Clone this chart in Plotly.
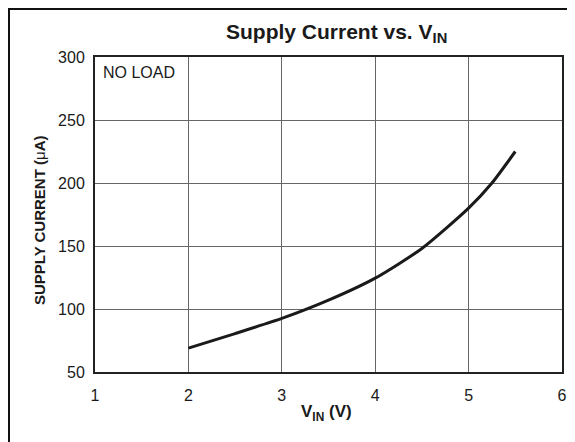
import plotly.graph_objects as go

vin = [2.0, 2.5, 3.0, 3.5, 4.0, 4.5, 5.0, 5.25, 5.5]
supply_current = [69, 80.5, 92.5, 107, 124.5, 148, 180, 200, 225]

x_ticks = [1, 2, 3, 4, 5, 6]
y_ticks = [50, 100, 150, 200, 250, 300]

FONT = "Liberation Sans, Arial, sans-serif"
INK = "#1a1a1a"

# the page body has an 8px default margin; positions below are window pixels
OFF = 8
W, H = 575, 442
PL, PR, PT, PB = 95, 562, 57, 372  # plot area in window pixels
L, T = PL - OFF, PT - OFF
R, B = W - (PR - OFF), H - (PB - OFF)
PW, PH = PR - PL, PB - PT


def px(xp):
    return (xp - PL) / PW


def py(yp):
    return (PB - yp) / PH


fig = go.Figure()
fig.add_trace(go.Scatter(
    x=vin, y=supply_current, mode="lines",
    line=dict(color=INK, width=3, shape="spline", smoothing=0.6),
    showlegend=False, hoverinfo="skip",
))

fig.update_layout(
    width=W, height=H,
    margin=dict(l=L, r=R, t=T, b=B),
    paper_bgcolor="white", plot_bgcolor="white",
    font=dict(family=FONT, color=INK, size=16),
    xaxis=dict(range=[1, 6], tickvals=x_ticks, ticks="", showgrid=True,
               gridcolor="#666666", gridwidth=1, showline=True, linecolor="#222222",
               linewidth=2, mirror=True, zeroline=False, automargin=False,
               tickfont=dict(size=16), ticklabelstandoff=8),
    yaxis=dict(range=[50, 300], tickvals=y_ticks, ticks="", showgrid=True,
               gridcolor="#666666", gridwidth=1, showline=True, linecolor="#222222",
               linewidth=2, mirror=True, zeroline=False, automargin=False,
               tickfont=dict(size=16), ticklabelstandoff=5),
)

# chart title
fig.add_annotation(text="<b>Supply Current vs. V<sub>IN</sub></b>", xref="paper", yref="paper",
                   x=px(336), y=py(33), xanchor="center", yanchor="middle",
                   showarrow=False, font=dict(size=21, family=FONT, color=INK))
# axis titles
fig.add_annotation(text="<b>SUPPLY CURRENT (</b>μ<b>A)</b>", xref="paper", yref="paper",
                   x=px(40), y=py(220), xanchor="center", yanchor="middle", textangle=-90,
                   showarrow=False, font=dict(size=15, family=FONT, color=INK))
fig.add_annotation(text="<b>V<sub>IN</sub> (V)</b>", xref="paper", yref="paper",
                   x=px(326), y=py(413), xanchor="center", yanchor="middle",
                   showarrow=False, font=dict(size=17, family=FONT, color=INK))

fig.add_annotation(text="NO LOAD", xref="paper", yref="paper",
                   x=px(101), y=py(62), xanchor="left", yanchor="top",
                   showarrow=False, font=dict(size=16, family=FONT, color=INK),
                   bgcolor="white")

# outer frame (left edge at the figure's edge, right/bottom run off the window)
fig.add_shape(type="rect", xref="paper", yref="paper",
              x0=px(OFF + 1), x1=1.2, y0=-0.4, y1=py(OFF + 1),
              line=dict(color="#111111", width=2), fillcolor="rgba(0,0,0,0)", layer="above")

fig.write_html("out.html")
